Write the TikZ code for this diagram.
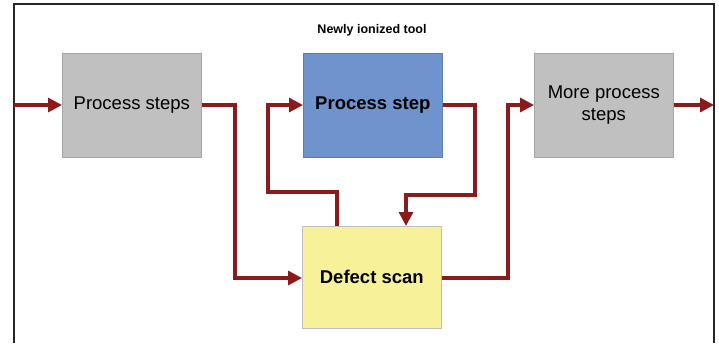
\documentclass[tikz,border=0pt]{standalone}
\usepackage{fontspec}
\setmainfont{Liberation Sans}
\usetikzlibrary{arrows.meta}
\definecolor{flowred}{HTML}{8B1A1A}
\definecolor{stepgray}{HTML}{C0C0C0}
\definecolor{stepblue}{HTML}{6F93CC}
\definecolor{scanyellow}{HTML}{F7F29A}
\tikzset{
  box/.style={minimum width=139pt, inner sep=0pt, align=center, font=\fontsize{18.5}{22.5}\selectfont},
  graybox/.style={box, fill=stepgray, draw=black!35, line width=0.6pt, minimum height=104pt},
  bluebox/.style={box, fill=stepblue, draw=stepblue!85!black, line width=0.6pt, minimum height=104pt, font=\fontsize{18.5}{22.5}\selectfont\bfseries},
  yellowbox/.style={box, fill=scanyellow, draw=black!25, line width=0.6pt, minimum height=102pt, font=\fontsize{18.5}{22.5}\selectfont\bfseries},
  flow/.style={draw=flowred, line width=3.2pt, -{Triangle[length=14pt,width=14pt]}},
  frame/.style={draw=black!85, line width=2.2pt}
}
\begin{document}
\begin{tikzpicture}[x=1pt,y=-1pt]
  \useasboundingbox (0,0) rectangle (719,343);
  \fill[white] (0,0) rectangle (719,343);
  % outer frame (open at the bottom)
  \draw[frame] (14,343) -- (14,4) -- (714,4) -- (714,343);

  \node[font=\fontsize{12.5}{15}\selectfont\bfseries] (title) at (372,30) {Newly ionized tool};

  \node[graybox, anchor=north west] (ps) at (62,53) {Process steps};
  \node[bluebox, anchor=north west] (step) at (303,53) {Process step};
  \node[graybox, anchor=north west] (more) at (534,53) {More process\\steps};
  \node[yellowbox, anchor=north west] (scan) at (302,226) {Defect scan};

  \coordinate (inL) at (14,105);
  \coordinate (outR) at (714,105);

  % incoming and outgoing flow
  \draw[flow] (inL) -- (ps.west |- inL);
  \draw[flow] (more.east |- outR) -- (outR);
  % process steps -> defect scan
  \draw[flow] (ps.east |- 0,105) -- (235,105) -- (235,278) -- (scan.west |- 0,278);
  % defect scan -> process step (rework loop)
  \draw[flow] (337,226) -- (337,192) -- (268,192) -- (268,105) -- (step.west |- 0,105);
  % process step -> defect scan
  \draw[flow] (step.east |- 0,105) -- (475,105) -- (475,195) -- (406,195) -- (406,226);
  % defect scan -> more process steps
  \draw[flow] (scan.east |- 0,278) -- (508,278) -- (508,105) -- (more.west |- 0,105);
\end{tikzpicture}
\end{document}
